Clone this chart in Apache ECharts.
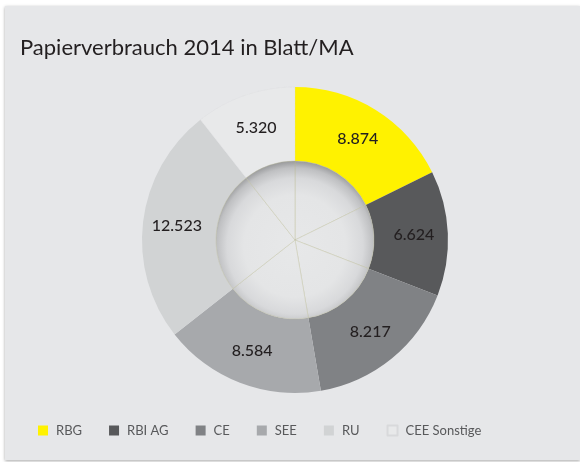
<!DOCTYPE html>
<html>
<head>
<meta charset="utf-8">
<script src="https://cdn.jsdelivr.net/npm/echarts@6/dist/echarts.min.js"></script>
<style>
  html, body { margin: 0; padding: 0; background: #ffffff; }
  #main { width: 580px; height: 462px; }
</style>
</head>
<body>
<div id="main"></div>
<script>
// Papierverbrauch 2014 in Blatt/MA
var categories = ["RBG", "RBI AG", "CE", "SEE", "RU", "CEE Sonstige"];
var values = [8874, 6624, 8217, 8584, 12523, 5320];
var colors = ["#fff200", "#58595b", "#808285", "#a7a9ac", "#d1d3d4", "#e8e9ea"];

var cx = 295, cy = 240;

// Tausenderpunkt
function fmt(v) {
  return String(v).replace(/\B(?=(\d{3})+(?!\d))/g, ".");
}

var chart = echarts.init(document.getElementById("main"));

var outerData = categories.map(function (name, i) {
  var item = { name: name, value: values[i], itemStyle: { color: colors[i] } };
  if (i === categories.length - 1) {
    item.itemStyle.borderColor = "#d8d9db";
    item.itemStyle.borderWidth = 0.6;
    item.itemStyle.borderType = "dotted";
  }
  return item;
});

// innere "Kugel"
var sphere = {
  type: "radial",
  x: cx,
  y: cy + 6,
  r: 85,
  global: true,
  colorStops: [
    { offset: 0, color: "#e7e8e9" },
    { offset: 0.6, color: "#e4e5e6" },
    { offset: 0.8, color: "#d8d9db" },
    { offset: 0.92, color: "#bfc0c2" },
    { offset: 1, color: "#98999b" },
  ],
};

var innerData = values.map(function (v) {
  return { value: v, itemStyle: { color: sphere } };
});

chart.setOption({
  backgroundColor: "#ffffff",
  graphic: [
    {
      type: "rect",
      z: -10,
      shape: { x: 5, y: 6, width: 575, height: 454 },
      style: {
        fill: "#e6e7e9",
        shadowBlur: 3,
        shadowOffsetY: 1,
        shadowColor: "rgba(0,0,0,0.35)",
      },
    },
  ],
  title: {
    text: "Papierverbrauch 2014 in Blatt/MA",
    left: 15,
    top: 32,
    textStyle: {
      fontFamily: "Lato",
      fontWeight: "normal",
      fontSize: 22,
      color: "#231f20",
    },
  },
  legend: {
    data: categories,
    left: 33,
    top: 419,
    itemWidth: 10,
    itemHeight: 10,
    itemGap: 27,
    icon: "rect",
    textStyle: {
      fontFamily: "Lato",
      fontSize: 13,
      color: "#58595b",
      padding: [0, 0, 0, 3],
    },
  },
  series: [
    {
      name: "Papierverbrauch",
      type: "pie",
      center: [cx, cy],
      radius: [79, 153],
      startAngle: 90,
      clockwise: true,
      silent: true,
      data: outerData,
      itemStyle: { borderWidth: 0 },
      label: {
        show: true,
        position: "inside",
        formatter: function (p) {
          return fmt(p.value);
        },
        fontFamily: "Lato",
        fontSize: 16,
        fontWeight: 500,
        color: "#231f20",
      },
      labelLine: { show: false },
      emphasis: { disabled: true },
    },
    {
      name: "inner",
      type: "pie",
      center: [cx, cy],
      radius: [0, 79],
      startAngle: 90,
      clockwise: true,
      silent: true,
      data: innerData,
      itemStyle: {
        borderColor: "rgba(190,190,150,0.3)",
        borderWidth: 0.6,
      },
      label: { show: false },
      labelLine: { show: false },
      emphasis: { disabled: true },
    },
  ],
});
</script>
</body>
</html>
